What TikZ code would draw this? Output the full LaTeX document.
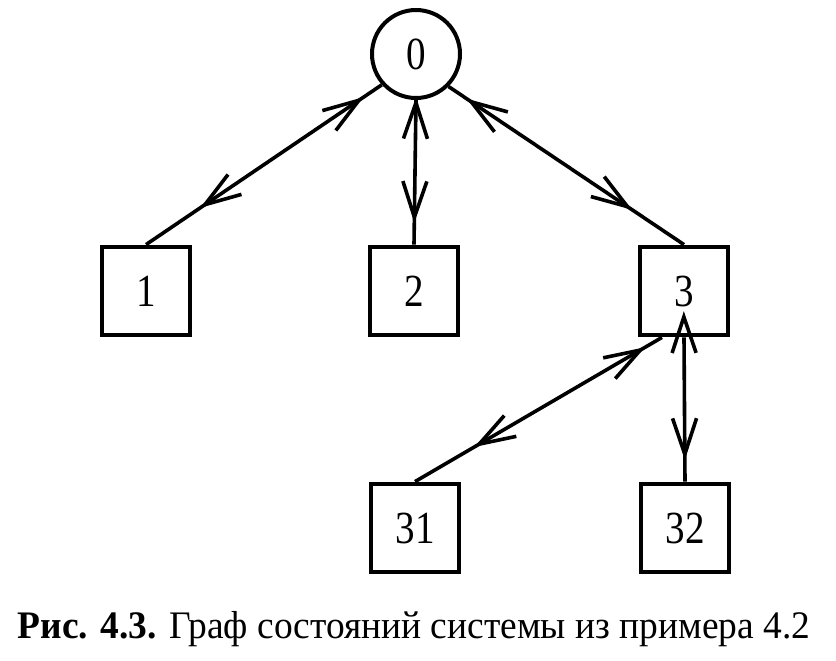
\documentclass[tikz,border=0pt]{standalone}
\usepackage{fontspec}
\setmainfont{Liberation Serif}
\newfontfamily\labelfont[FakeStretch=0.85]{Liberation Serif}
\newfontfamily\capfont[FakeStretch=0.96]{Liberation Serif}
\usepackage{tikz}
\usetikzlibrary{arrows.meta,decorations.markings}

\tikzset{
	state/.style={draw, line width=2.4pt, minimum size=44pt, inner sep=0pt, font=\labelfont\fontsize{23}{26}\selectfont},
	start/.style={circle, draw, line width=2pt, minimum size=44pt, inner sep=0pt, font=\labelfont\fontsize{23}{26}\selectfont},
	twoway/.style 2 args={line width=1.8pt, postaction={decorate},
		decoration={markings,
			mark=at position #1 with {\arrow{<}},
			mark=at position #2 with {\arrow{>}}}},
	>={Straight Barb[length=18pt, width=12pt, line width=1.8pt]}
}

\begin{document}
\begin{tikzpicture}[x=0.5pt, y=-0.5pt]
		\useasboundingbox (0,0) rectangle (836,660);
		
		\node [start] (n0) at (416,54) {0};
		\node [state] (n1) at (146,291) {1};
		\node [state] (n2) at (414,291) {2};
		\node [state] (n3) at (684,291) {3};
		\node [state] (n31) at (415,528) {31};
		\node [state] (n32) at (685,528) {32};
		
		\draw [twoway={0.23}{0.77}] (n0.222) -- (n1.north);
		\draw [twoway={0.28}{0.85}] (n0.south) -- (n2.north);
		\draw [twoway={0.23}{0.78}] (n0.-45) -- (n3.north);
		\draw [twoway={0.22}{0.76}] ([xshift=-11pt]n3.south) -- (n31.north);
		\draw [twoway={0.12}{0.85}] (n3.south) -- (n32.north);
		
		\node [anchor=base, font=\capfont\fontsize{19.5}{22}\selectfont] (cap) at (414,638) {\textbf{Рис. 4.3.} Граф состояний системы из примера 4.2};
	\end{tikzpicture}
\end{document}
